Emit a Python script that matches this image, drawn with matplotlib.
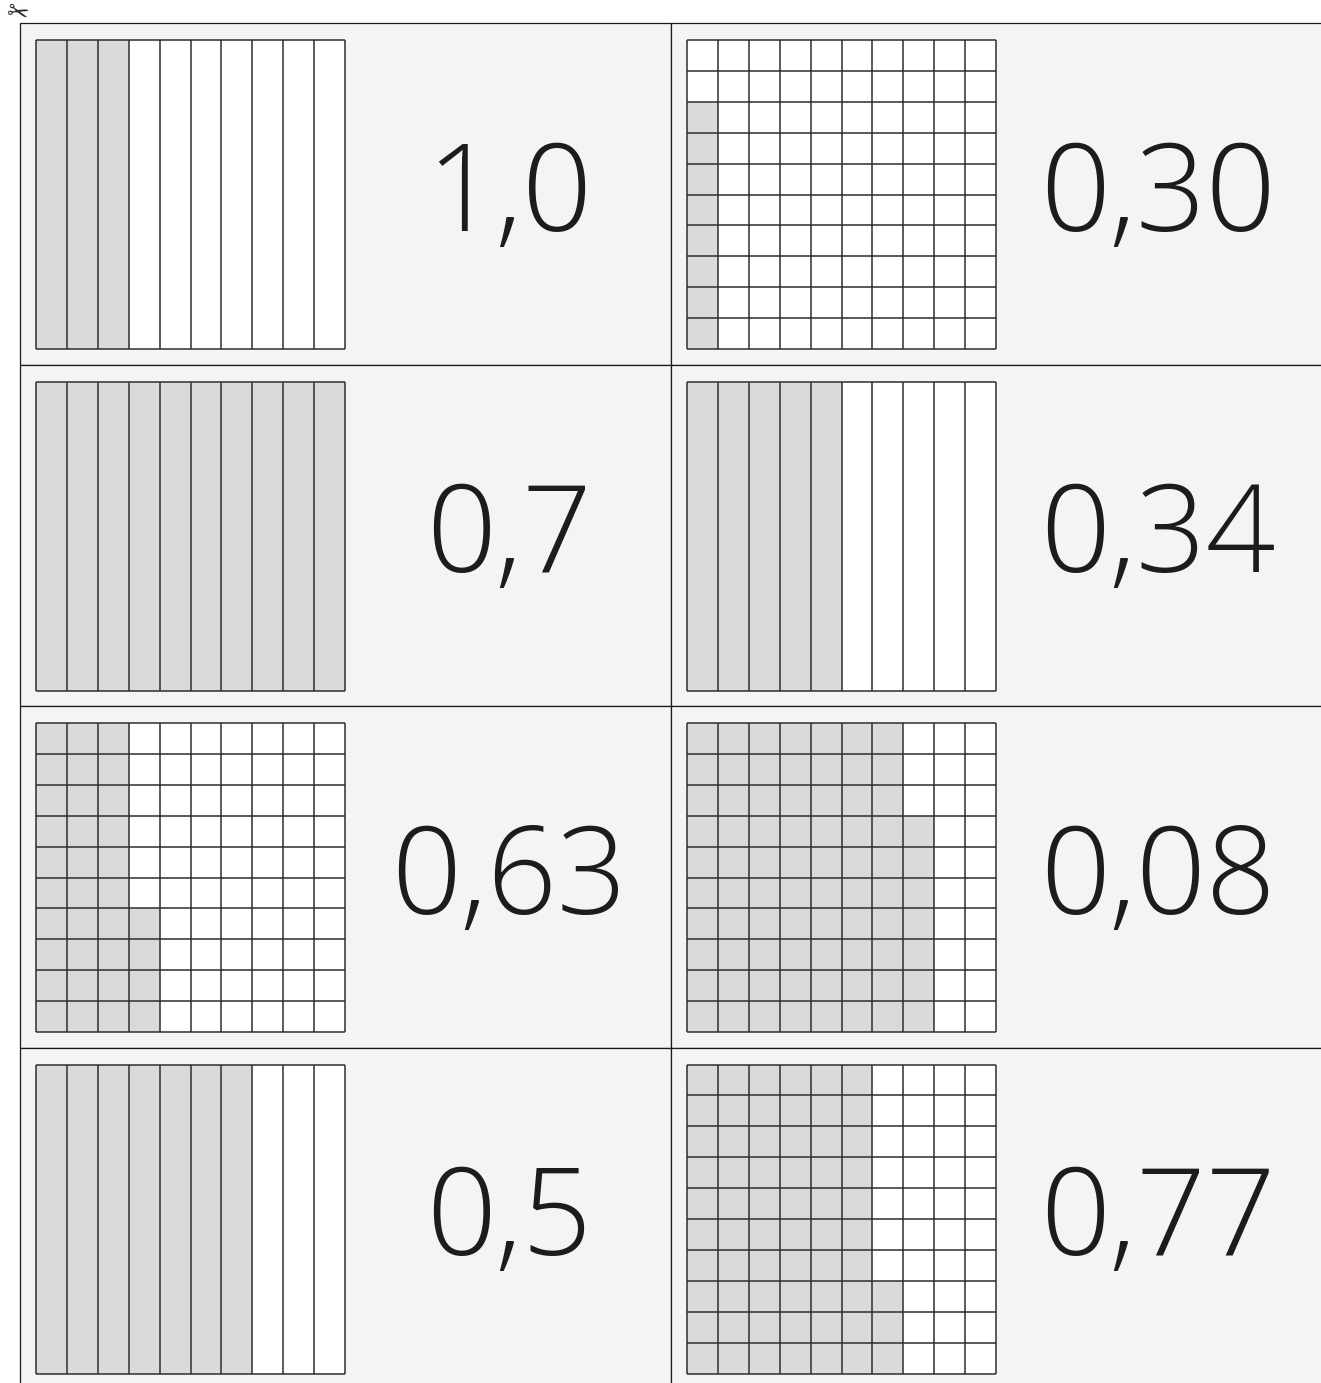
import matplotlib
matplotlib.use("Agg")
import matplotlib.pyplot as plt
from matplotlib.patches import Rectangle

# kaarten, rij voor rij (links, rechts)
labels = ["1,0", "0,30", "0,7", "0,34", "0,63", "0,08", "0,5", "0,77"]
kinds = ["strips", "grid", "strips", "strips", "grid", "grid", "strips", "grid"]
full_cols = [3, 0, 10, 5, 3, 7, 7, 6]      # volledig grijze kolommen
partial_cells = [0, 8, 0, 0, 4, 7, 0, 3]   # grijze cellen onderaan de volgende kolom

W, H = 1321, 1383
fig = plt.figure(figsize=(W / 100, H / 100), dpi=100)
ax = fig.add_axes([0, 0, 1, 1])
ax.set_xlim(0, W)
ax.set_ylim(H, 0)
ax.axis("off")

x0, y0 = 20, 23
card_w, card_h = 651, 341.5
grid_off_x, grid_off_y = 16, 17
gs = 309
shade = "#d9dadc"
line = "#2e2e2e"

for i, lab in enumerate(labels):
    r, c = divmod(i, 2)
    cx = x0 + c * card_w
    cy = y0 + r * card_h
    ax.add_patch(Rectangle((cx, cy), card_w, card_h, facecolor="#f4f4f4",
                           edgecolor="#1a1a1a", lw=0.9, zorder=1))
    gx = cx + grid_off_x
    gy = cy + grid_off_y
    cell = gs / 10
    ax.add_patch(Rectangle((gx, gy), gs, gs, facecolor="white", edgecolor="none", zorder=2))
    # grijze kolommen
    if full_cols[i] > 0:
        ax.add_patch(Rectangle((gx, gy), full_cols[i] * cell, gs,
                               facecolor=shade, edgecolor="none", zorder=3))
    if partial_cells[i] > 0:
        ax.add_patch(Rectangle((gx + full_cols[i] * cell, gy + (10 - partial_cells[i]) * cell),
                               cell, partial_cells[i] * cell,
                               facecolor=shade, edgecolor="none", zorder=3))
    # lijnen
    for k in range(11):
        ax.plot([gx + k * cell, gx + k * cell], [gy, gy + gs], color=line, lw=1.1, zorder=4,
                solid_capstyle="butt")
    if kinds[i] == "grid":
        for k in range(11):
            ax.plot([gx, gx + gs], [gy + k * cell, gy + k * cell], color=line, lw=1.1, zorder=4,
                    solid_capstyle="butt")
    else:
        for k in (0, 10):
            ax.plot([gx, gx + gs], [gy + k * cell, gy + k * cell], color=line, lw=1.1, zorder=4,
                    solid_capstyle="butt")
    tx = cx + 489 if c == 0 else cx + 487
    ax.text(tx, cy + 176, lab, ha="center", va="center", fontsize=88,
            family=["Open Sans", "DejaVu Sans"], fontweight=300, color="#1c1c1c", zorder=5)

# schaartje
ax.text(17, 14, "\u2702", ha="center", va="center", fontsize=19, family="DejaVu Sans",
        rotation=-15, color="#222222", zorder=6)

fig.savefig("out.png", dpi=100, facecolor="white")
